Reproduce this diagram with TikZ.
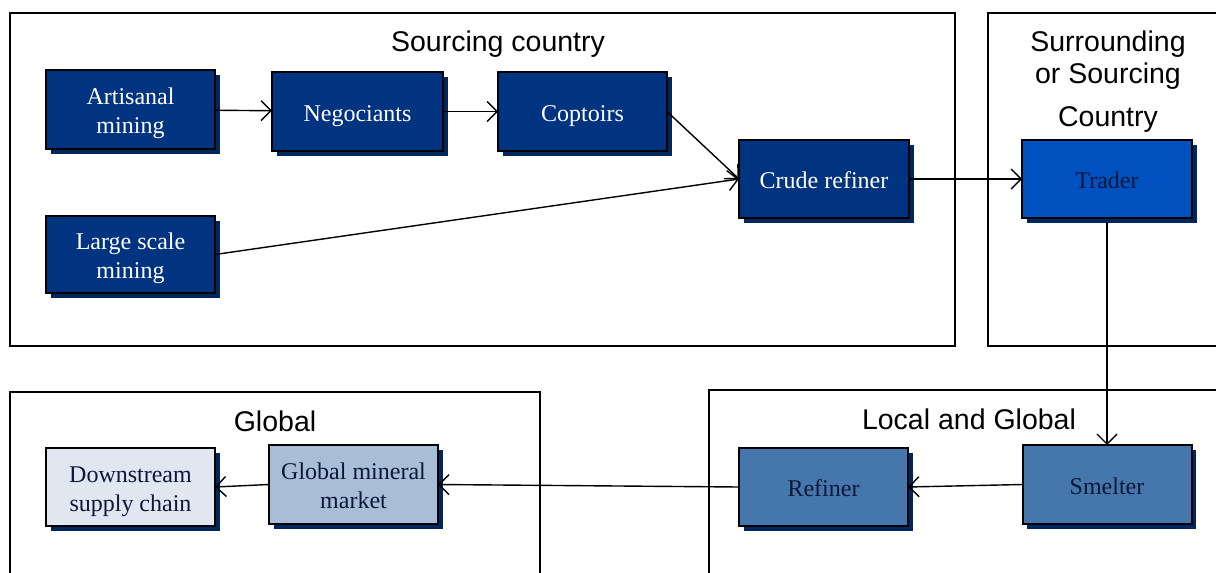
\documentclass[tikz,border=0pt]{standalone}
\usepackage{fontspec}
\setmainfont{Liberation Serif}
\newfontfamily\regionfont{Liberation Sans}
\usetikzlibrary{arrows.meta}

\definecolor{navy}{RGB}{0,51,128}
\definecolor{royal}{RGB}{0,80,192}
\definecolor{steel}{RGB}{69,118,172}
\definecolor{pale}{RGB}{168,190,214}
\definecolor{mist}{RGB}{225,231,240}
\definecolor{shade}{RGB}{0,38,94}
\definecolor{ink}{RGB}{12,24,56}

% stage labels: a centred tabular, with zero size so it sits on the box centre
\newcommand{\stagetext}[1]{\raisebox{-10pt}[0pt][0pt]{\begin{tabular}{@{}c@{}}#1\end{tabular}}}

\tikzset{
  region/.style={draw=black, line width=2pt},
  regiontitle/.style={font=\regionfont\fontsize{28.5}{34}\selectfont, inner sep=0pt},
  stage/.style={draw=black, line width=2pt, inner sep=0pt, outer sep=0pt,
    minimum width=169pt, minimum height=78pt,
    font=\fontsize{24}{29}\selectfont,
    preaction={fill=shade, transform canvas={xshift=4.5pt, yshift=-4.5pt}}},
  darkstage/.style={stage, fill=navy, text=white},
  arr/.style={draw=black, line width=1.4pt, -{Straight Barb[length=10pt,width=20pt,line width=1.4pt]}}
}

\begin{document}
\begin{tikzpicture}[x=1pt,y=-1pt]
\useasboundingbox (0,0) rectangle (1216,573);
\clip (0,0) rectangle (1216,573);

% regions
\draw[region] (10,13) rectangle (955,346);
\draw[region] (988,13) rectangle (1240,346);
\draw[region] (10,392) rectangle (540,600);
\draw[region] (709,390) rectangle (1240,600);

\node[regiontitle] (tsrc) at (498,44) {Sourcing country};
\node[regiontitle] (tsur1) at (1108,44) {Surrounding};
\node[regiontitle] (tsur2) at (1108,76) {or Sourcing};
\node[regiontitle] (tsur3) at (1108,120) {Country};
\node[regiontitle] (tglob) at (275,421) {Global};
\node[regiontitle] (tlocal) at (969,419) {Local and Global};

% stages
\node[darkstage, minimum height=79pt] (art) at (130.5,109.5) {\stagetext{Artisanal\\mining}};
\node[darkstage, minimum width=171pt, minimum height=79pt] (neg) at (357.5,111.5) {\stagetext{Negociants}};
\node[darkstage, minimum height=79pt] (cop) at (582.5,111.5) {\stagetext{Coptoirs}};
\node[darkstage, minimum width=170pt] (crude) at (824,179) {\stagetext{Crude refiner}};
\node[darkstage, minimum height=77pt] (large) at (130.5,254.5) {\stagetext{Large scale\\mining}};
\node[stage, fill=royal, minimum width=170pt, text=ink] (trader) at (1107,179) {\stagetext{Trader}};
\node[stage, fill=steel, minimum height=79pt, text=ink] (smelter) at (1107,484.5) {\stagetext{Smelter}};
\node[stage, fill=steel, text=ink] (refiner) at (823.5,487) {\stagetext{Refiner}};
\node[stage, fill=pale, minimum height=79pt, text=ink] (gmm) at (353.5,484.5) {\stagetext{Global mineral\\market}};
\node[stage, fill=mist, text=ink] (down) at (130.5,487) {\stagetext{Downstream\\supply chain}};

% flows
\draw[arr] (art) -- (neg);
\draw[arr] (neg) -- (cop);
\draw[arr] (cop.east) -- (crude.west);
\draw[arr] (large.east) -- (crude.west);
\draw[arr] (crude) -- (trader);
\draw[arr] ([yshift=-4pt]trader.south) -- (smelter.north);
\draw[arr] (smelter.west) -- (refiner.east);
\draw[arr] (refiner.west) -- (gmm.east);
\draw[arr] (gmm.west) -- (down.east);
\end{tikzpicture}
\end{document}
